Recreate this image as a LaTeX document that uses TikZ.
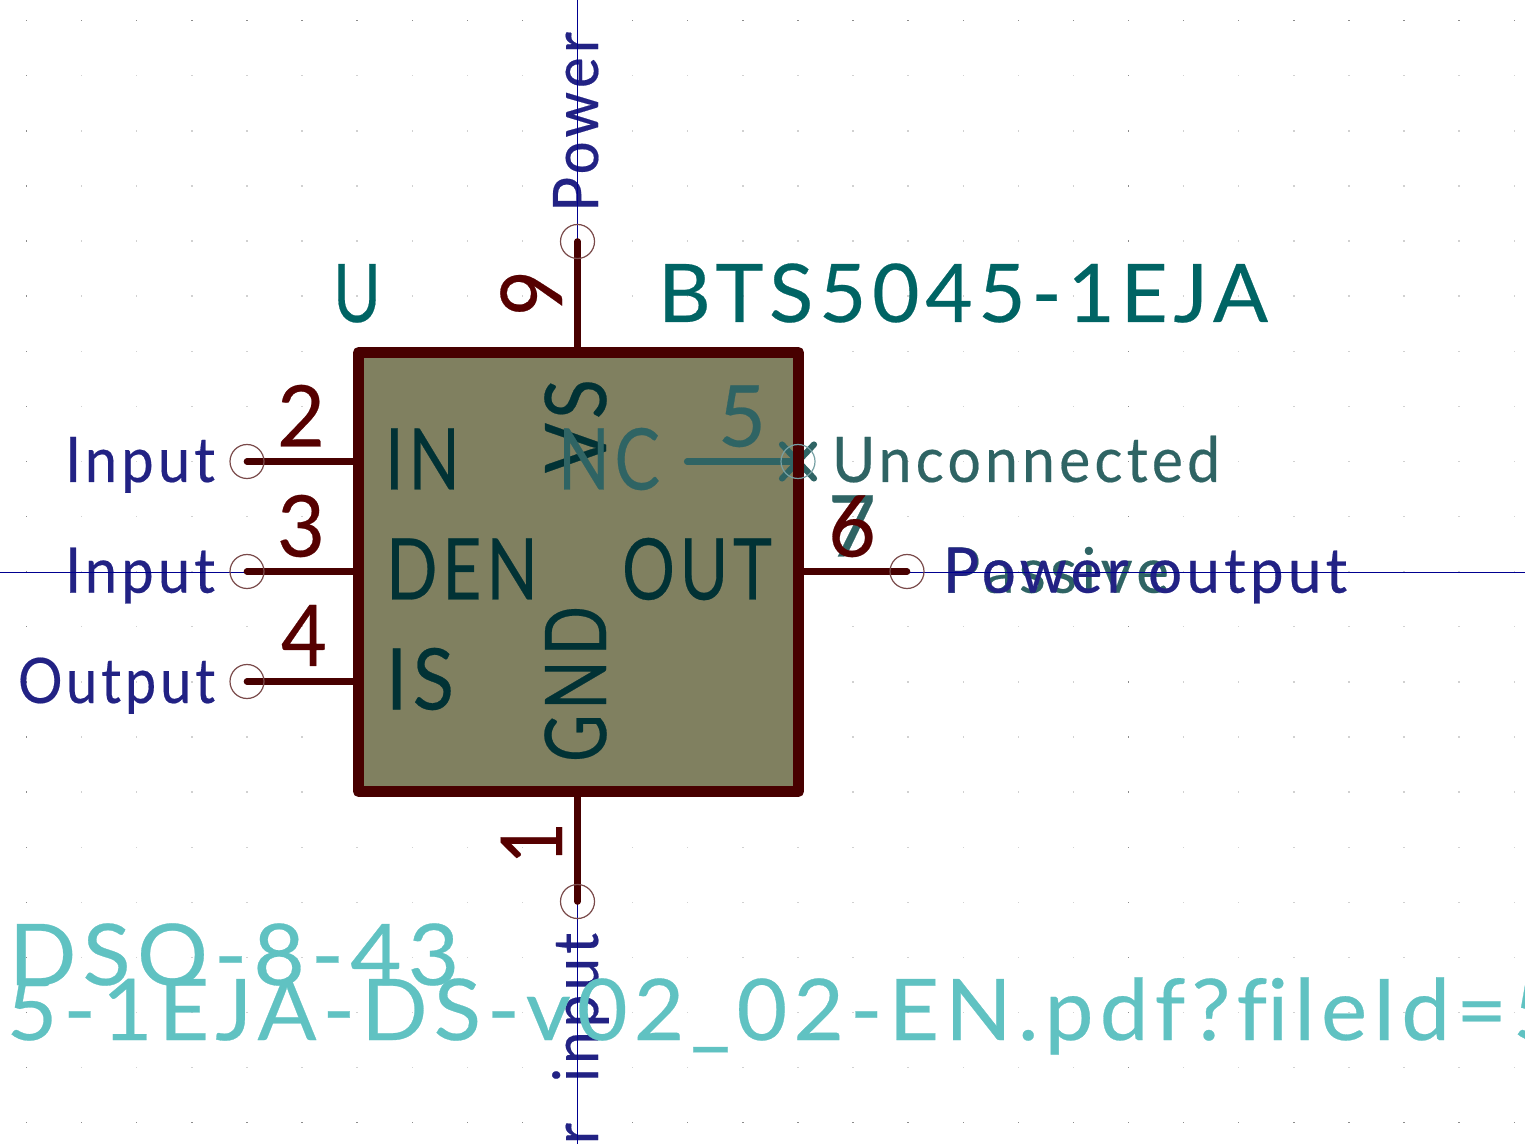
\documentclass[tikz,border=0pt]{standalone}
\usepackage{fontspec}
\usepackage{graphicx}
\usetikzlibrary{calc}
\setmainfont[LetterSpace=7,FakeBold=0.3]{Lato}
\definecolor{pinred}{HTML}{480000}
\definecolor{numred}{HTML}{560000}
\definecolor{bodyfill}{HTML}{808060}
\definecolor{nameteal}{HTML}{013235}
\definecolor{refteal}{HTML}{006464}
\definecolor{dimteal}{HTML}{2F6464}
\definecolor{fpteal}{HTML}{60C2C2}
\definecolor{typeblue}{HTML}{222284}
\definecolor{crossblue}{HTML}{000090}
\definecolor{ringred}{HTML}{7A4A4A}
\definecolor{ringteal}{HTML}{76A0A4}
\newsavebox\ktbox
\newlength\ktcap
\newcommand\kt[3]{\sbox\ktbox{#3}\settoheight\ktcap{H}%
  \pgfmathsetmacro\ktsx{#1*0.75/\wd\ktbox}\pgfmathsetmacro\ktsy{#2*0.75/\ktcap}%
  \scalebox{\ktsx}[\ktsy]{\usebox\ktbox}}
\tikzset{
  lbl/.style={inner sep=0pt,outer sep=0pt,anchor=base west},
  vlbl/.style={lbl,rotate=90},
  pinline/.style={draw=pinred,line width=5pt,line cap=round},
  dimline/.style={draw=dimteal,line width=4.6pt,line cap=round},
  ringnode/.style={circle,draw=ringred,line width=0.9pt,minimum size=25.5pt,inner sep=0pt},
  ringdim/.style={circle,draw=ringteal,line width=0.9pt,minimum size=25.5pt,inner sep=0pt},
  axis/.style={draw=crossblue,line width=0.8pt},
}
\begin{document}
\begin{tikzpicture}[x=0.75pt,y=-0.75pt]
\useasboundingbox (0,0) rectangle (1525,1144);
\clip (0,0) rectangle (1525,1144);
\fill[white] (0,0) rectangle (1525,1144);
% grid
\foreach \i in {0,...,27}{\foreach \j in {0,...,20}{
  \pgfmathtruncatemacro\maj{(mod(\i,20)==0||mod(\j,20)==0)?1:0}
  \ifnum\maj=1\def\gc{black!45}\else\def\gc{black!18}\fi
  \fill[\gc] ({26.5+55.1*\i-0.7},{20.7+55.1*\j-0.7}) rectangle ++(1.4,1.4);
}}
% electrical types
\node[lbl,text=dimteal] (tp) at (943,592.7) {\kt{226}{45}{Passive}};
\node[lbl,text=typeblue] (t2) at (65,482) {\kt{150}{45}{Input}};
\node[lbl,text=typeblue] (t3) at (65,592.7) {\kt{150}{45}{Input}};
\node[lbl,text=typeblue] (t4) at (18,703) {\kt{197}{45}{Output}};
\node[lbl,text=typeblue] (t6) at (943,592.7) {\kt{404}{45}{Power output}};
\node[vlbl,text=typeblue] (t9) at (598,212) {\kt{370}{45}{Power\kern3.75pt\ input}};
\node[vlbl,text=typeblue] (t1) at (598,1303) {\kt{370}{45}{Power\kern3.75pt\ input}};
% crosshair
\coordinate (cxl) at (0,572.5); \coordinate (cxr) at (1525,572.5);
\coordinate (cyt) at (577.5,0); \coordinate (cyb) at (577.5,1144);
\draw[axis] (cxl) -- (cxr);
\draw[axis] (cyt) -- (cyb);
% pin anchors
\coordinate (r2) at (247,461.5);
\coordinate (r3) at (247,571.5);
\coordinate (r4) at (247,681.5);
\coordinate (r6) at (907,571.5);
\coordinate (r9) at (577.5,241.5);
\coordinate (r1) at (577.5,901.5);
\coordinate (b2) at (358,461.5); \coordinate (b3) at (358,571.5); \coordinate (b4) at (358,681.5);
\coordinate (b6) at (798,571.5); \coordinate (b9) at (577.5,352); \coordinate (b1) at (577.5,791);
\draw[pinline] (r2) -- (b2);
\draw[pinline] (r3) -- (b3);
\draw[pinline] (r4) -- (b4);
\draw[pinline] (r6) -- (b6);
\draw[pinline] (r9) -- (b9);
\draw[pinline] (r1) -- (b1);
% body fill
\fill[bodyfill] (358.5,352.5) rectangle (798.5,791.5);
% no-connect cross and pin 5, under the body outline
\coordinate (nc) at (798,461.5);
\coordinate (p5) at (687,461.5);
\draw[dimline] ($(nc)+(-16,-17)$) -- ($(nc)+(16,17)$);
\draw[dimline] ($(nc)+(-16,17)$) -- ($(nc)+(16,-17)$);
\draw[dimline] (p5) -- (nc);
% body outline
\draw[draw=pinred,line width=8.25pt,line join=round] (358.5,352.5) rectangle (798.5,791.5);
\node[ringdim] (c5) at (nc) {};
% rings
\node[ringnode] (c2) at (r2) {};
\node[ringnode] (c3) at (r3) {};
\node[ringnode] (c4) at (r4) {};
\node[ringnode] (c6) at (r6) {};
\node[ringnode] (c9) at (r9) {};
\node[ringnode] (c1) at (r1) {};
% pin names
\node[lbl,text=nameteal] (nIN) at (385,489.5) {\kt{75}{61}{IN}};
\node[lbl,text=nameteal] (nDEN) at (386,599.5) {\kt{152}{61}{DEN}};
\node[lbl,text=nameteal] (nIS) at (386,709.5) {\kt{68}{61}{IS}};
\node[lbl,text=nameteal] (nOUT) at (622,599.5) {\kt{150}{61}{OUT}};
\node[vlbl,text=nameteal] (nVS) at (606,473) {\kt{94}{61}{VS}};
\node[vlbl,text=nameteal] (nGND) at (606,762) {\kt{156}{61}{GND}};
\node[lbl,text=dimteal] (nNC) at (558,489.5) {\kt{102}{61}{NC}};
% pin numbers
\node[lbl,text=dimteal] (n5) at (718,446.5) {\kt{48}{61}{5}};
\node[lbl,text=dimteal] (n7) at (828,556.5) {\kt{48}{61}{7}};
\node[lbl,text=numred] (n2) at (277,446.5) {\kt{48}{61}{2}};
\node[lbl,text=numred] (n3) at (277,556.5) {\kt{48}{61}{3}};
\node[lbl,text=numred] (n4) at (281,666) {\kt{46}{61}{4}};
\node[lbl,text=numred] (n6) at (828,556.5) {\kt{48}{61}{6}};
\node[vlbl,text=numred] (n9) at (562,316) {\kt{46}{61}{9}};
\node[vlbl,text=numred] (n1) at (562,864) {\kt{42}{61}{1}};
% texts
\node[lbl,text=dimteal] (unc) at (832,482) {\kt{388}{45}{Unconnected}};
\node[lbl,text=refteal] (ref) at (333,322) {\kt{48}{58}{U}};
\node[lbl,text=refteal] (val) at (658,322) {\kt{610}{58}{BTS5045-1EJA}};
\node[lbl,text=fpteal] (fp) at (9,985) {\kt{450}{61}{DSO-8-43}};
\node[lbl,text=fpteal] (ds) at (-50,1040) {\kt{1613}{61}{45-1EJA-DS-v02\_02-EN.pdf?f\kern0pt ileId=5}};
\end{tikzpicture}
\end{document}
